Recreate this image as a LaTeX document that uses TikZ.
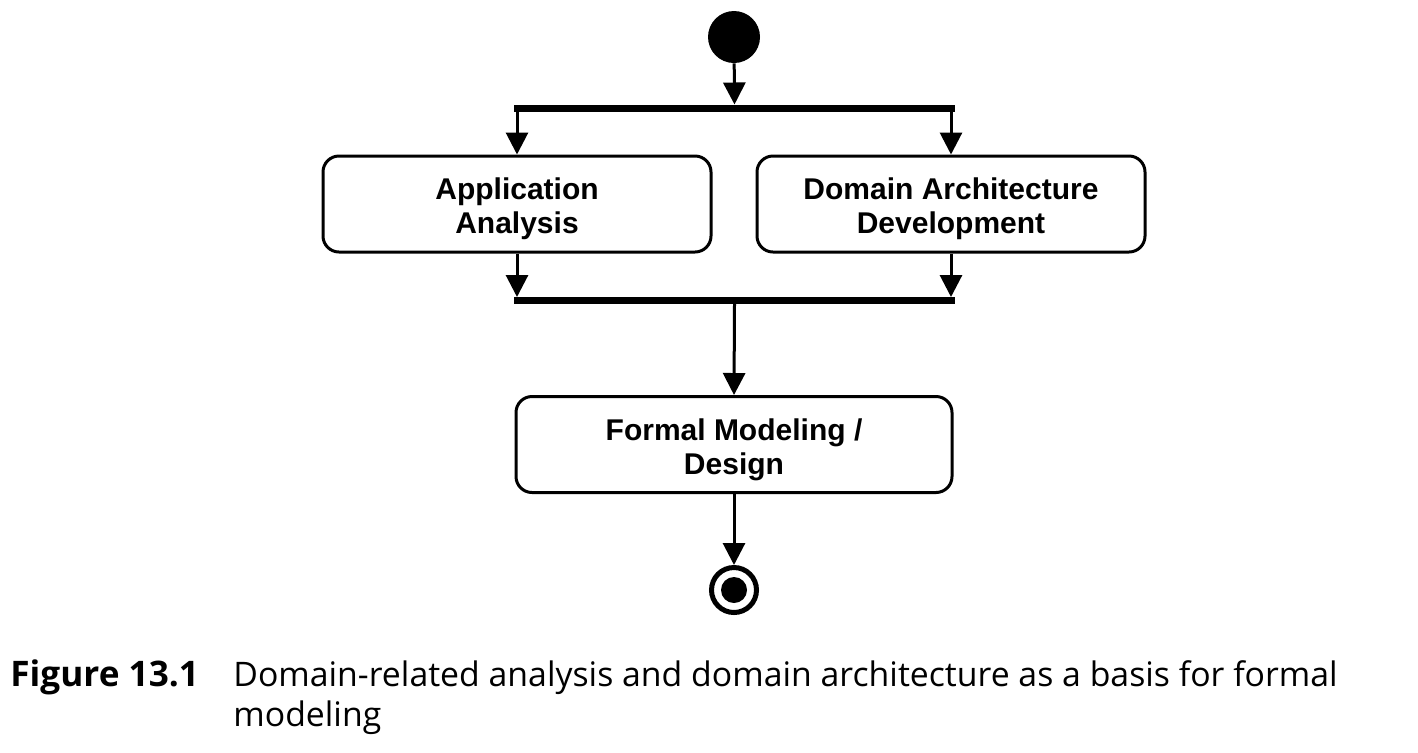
\documentclass[tikz,border=0pt]{standalone}
\usepackage{fontspec}
\setsansfont{Liberation Sans}
\newfontfamily\capfont{Open Sans}
\usetikzlibrary{arrows.meta}
\newcommand{\topstrut}{\rule{0pt}{16pt}}
\begin{document}
\begin{tikzpicture}[x=0.5pt,y=-0.5pt,
  arr/.style={line width=1.5pt,-{Triangle[length=11pt,width=11pt]}},
  actbox/.style={draw,line width=1.5pt,rounded corners=8pt,minimum width=194pt,minimum height=48pt,
    align=center,font=\sffamily\bfseries\fontsize{15}{17}\selectfont,inner sep=0pt},
  bar/.style={fill=black,minimum width=220.5pt,minimum height=3.5pt,inner sep=0pt,outer sep=0pt},
  capt/.style={anchor=base west,inner sep=0pt,font=\capfont\fontsize{16.9}{20}\selectfont}]
\useasboundingbox (0,0) rectangle (1418,752);
\node[circle,fill=black,minimum size=26pt,inner sep=0pt] (start) at (734,37) {};
\node[bar] (fork) at (734.5,108) {};
\node[actbox] (a) at (517,204) {\topstrut Application\\Analysis};
\node[actbox] (b) at (951,204) {\topstrut Domain Architecture\\Development};
\node[bar] (join) at (734.5,300.5) {};
\node[actbox,minimum width=218pt] (c) at (734,444.5) {\topstrut Formal Modeling /\\Design};
\node[circle,draw,line width=2.5pt,minimum size=22.5pt,inner sep=0pt] (end) at (734,590) {};
\fill (end.center) circle[radius=6.5pt];
\draw[arr] (start) -- (fork.north);
\draw[arr] (fork.south -| a.north) -- (a.north);
\draw[arr] (fork.south -| b.north) -- (b.north);
\draw[arr] (a.south) -- (join.north -| a.south);
\draw[arr] (b.south) -- (join.north -| b.south);
\draw[arr] (join.south) -- (c.north);
\draw[arr] (c.south) -- (end.north);
\node[capt,font=\capfont\bfseries\fontsize{17.6}{20}\selectfont] (fig) at (10,686) {Figure 13.1};
\node[capt] (cap1) at (233,686) {Domain-related analysis and domain architecture as a basis for formal};
\node[capt] (cap2) at (233,726) {modeling};
\end{tikzpicture}
\end{document}
